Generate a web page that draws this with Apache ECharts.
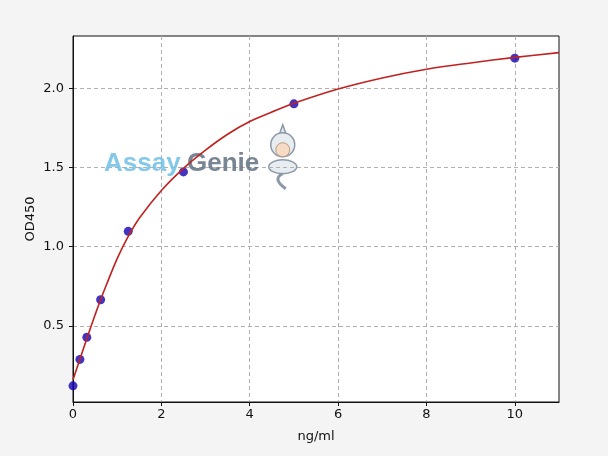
<!DOCTYPE html>
<html>
<head>
<meta charset="utf-8">
<script src="https://cdn.jsdelivr.net/npm/echarts@6/dist/echarts.min.js"></script>
<style>
  html, body { margin: 0; padding: 0; background: #f4f4f4; }
  #chart { width: 608px; height: 456px; }
</style>
</head>
<body>
<div id="chart"></div>
<script>
// standard points (ng/ml, OD450)
const stdConc = [0, 0.156, 0.3125, 0.625, 1.25, 2.5, 5, 10];
const stdOD = [0.122, 0.289, 0.428, 0.665, 1.097, 1.472, 1.902, 2.19];

// fitted curve
const fitConc = [0, 0.156, 0.3125, 0.5, 0.625, 0.75, 1, 1.25, 1.5, 2, 2.5, 3, 3.5, 4, 4.5, 5, 6, 7, 8, 9, 10, 11];
const fitOD = [0.16, 0.29, 0.42, 0.57, 0.665, 0.755, 0.925, 1.065, 1.18, 1.355, 1.495, 1.61, 1.71, 1.79, 1.85, 1.905, 1.995, 2.065, 2.12, 2.16, 2.195, 2.225];

const xTicks = [0, 2, 4, 6, 8, 10];
const yTicks = [0.5, 1.0, 1.5, 2.0];

function drawStandardCurve() {
    var dom = document.getElementById('chart');
    var myChart = echarts.init(dom, null, { renderer: 'canvas' });

    var font = 'DejaVu Sans';
    var option = {
        backgroundColor: '#f4f4f4',
        animation: false,
        grid: {
            left: 73, right: 49, top: 36, bottom: 54,
            show: true,
            backgroundColor: '#fff',
            borderColor: '#111',
            borderWidth: 1
        },
        xAxis: {
            type: 'value',
            min: 0, max: 11,
            name: 'ng/ml',
            nameLocation: 'middle',
            nameGap: 28,
            nameMoveOverlap: false,
            nameTextStyle: { color: '#111', fontSize: 13, fontFamily: font },
            axisLine: { lineStyle: { color: '#111' } },
            axisTick: { length: 4, customValues: xTicks, lineStyle: { color: '#111' } },
            axisLabel: { color: '#111', fontSize: 13, fontFamily: font, margin: 6, customValues: xTicks },
            splitLine: { lineStyle: { color: '#b0b0b0', type: [4, 3] } }
        },
        yAxis: {
            type: 'value',
            min: 0.02, max: 2.33,
            name: 'OD450',
            nameLocation: 'middle',
            nameRotate: 90,
            nameGap: 36,
            nameMoveOverlap: false,
            nameTextStyle: { color: '#111', fontSize: 13, fontFamily: font },
            axisLine: { show: true, lineStyle: { color: '#111' } },
            axisTick: { show: true, length: 4, customValues: yTicks, lineStyle: { color: '#111' } },
            axisLabel: {
                color: '#111', fontSize: 13, fontFamily: font, margin: 9,
                customValues: yTicks,
                formatter: function (v) { return v.toFixed(1); }
            },
            splitLine: { lineStyle: { color: '#b0b0b0', type: [4, 3] } }
        },
        graphic: [
            {
                type: 'text', left: 104, top: 151, z: 1, silent: true,
                style: { text: 'Assay', fill: 'rgba(110,190,230,0.85)', font: 'bold 26px "Liberation Sans"' }
            },
            {
                type: 'text', left: 187, top: 151, z: 1, silent: true,
                style: { text: 'Genie', fill: 'rgba(95,112,130,0.85)', font: 'bold 26px "Liberation Sans"' }
            },
            // rough genie mark
            {
                type: 'group', left: 268, top: 124, z: 1, silent: true,
                children: [
                    { type: 'polygon', shape: { points: [[17, 0], [12, 14], [22, 14]] }, style: { fill: '#dfe6ee', stroke: '#8a98a8', lineWidth: 1.5 } },
                    { type: 'circle', shape: { cx: 17, cy: 20, r: 12 }, style: { fill: '#e8edf2', stroke: '#8a98a8', lineWidth: 1.5 } },
                    { type: 'circle', shape: { cx: 17, cy: 25, r: 7 }, style: { fill: '#f6dcc4', stroke: '#b99a80', lineWidth: 1 } },
                    { type: 'ellipse', shape: { cx: 17, cy: 42, rx: 14, ry: 7 }, style: { fill: '#e8edf2', stroke: '#8a98a8', lineWidth: 1.5 } },
                    { type: 'bezierCurve', shape: { x1: 17, y1: 49, cpx1: 6, cpy1: 54, x2: 20, y2: 64 }, style: { stroke: '#8a98a8', lineWidth: 3, fill: null } }
                ]
            }
        ],
        series: [
            {
                type: 'scatter',
                data: stdConc.map(function (x, i) { return [x, stdOD[i]]; }),
                symbol: 'circle',
                symbolSize: 9,
                itemStyle: { color: '#1500b0' },
                z: 3
            },
            {
                type: 'line',
                data: fitConc.map(function (x, i) { return [x, fitOD[i]]; }),
                smooth: 0.35,
                showSymbol: false,
                lineStyle: { color: '#c0221f', width: 1.6 },
                z: 4
            }
        ]
    };

    myChart.setOption(option);
    window.addEventListener('resize', myChart.resize);
}

drawStandardCurve();
</script>
</body>
</html>
